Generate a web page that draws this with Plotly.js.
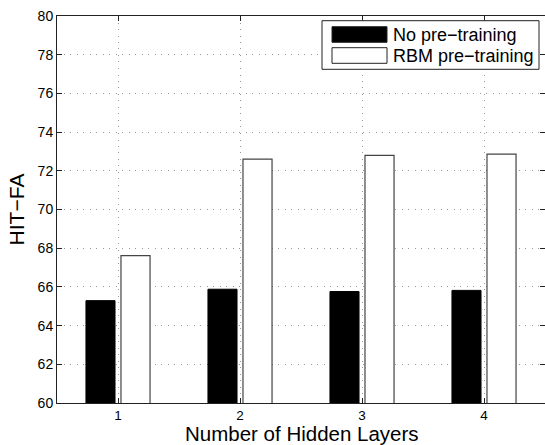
<!DOCTYPE html>
<html>
<head>
<meta charset="utf-8">
<script src="https://cdn.plot.ly/plotly-3.0.1.min.js"></script>
<style>html,body{margin:0;padding:0;background:#fff;overflow:hidden;}#chart{width:545px;height:445px;}</style>
</head>
<body>
<div id="chart"></div>
<script>
const layers = ['1', '2', '3', '4'];
const seriesNames = ['No pre\u2212training', 'RBM pre\u2212training'];
const noPretrain = [65.29, 65.88, 65.76, 65.82];
const rbmPretrain = [67.62, 72.60, 72.80, 72.86];
const yTicks = [60, 62, 64, 66, 68, 70, 72, 74, 76, 78, 80];
const xTitle = 'Number of Hidden Layers';
const yTitle = 'HIT\u2212FA';

const W = 545, H = 445;
const M = {l: 57, r: 0, t: 16, b: 42};
const pw = W - M.l - M.r, ph = H - M.t - M.b;
const px = x => (x - M.l) / pw;
const py = y => (H - M.b - y) / ph;

const FONT = 'Liberation Sans, Arial, Helvetica, sans-serif';

const traces = [
  {type: 'bar', x: layers, y: noPretrain, name: seriesNames[0],
   marker: {color: '#000000', line: {color: '#000000', width: 1}}},
  {type: 'bar', x: layers, y: rbmPretrain, name: seriesNames[1],
   marker: {color: '#ffffff', line: {color: '#444444', width: 1.2}}}
];

// legend drawn manually to mimic MATLAB style
const fills = ['#000000', '#ffffff'];
const shapes = [
  {type: 'rect', xref: 'paper', yref: 'paper', x0: px(322), x1: px(539), y0: py(20.7), y1: py(69.3),
   fillcolor: '#ffffff', line: {color: '#222222', width: 1}, layer: 'above'}
];
const annotations = [];
const rowY = [34.5, 55.5];
seriesNames.forEach((n, i) => {
  shapes.push({type: 'rect', xref: 'paper', yref: 'paper', x0: px(332), x1: px(387),
    y0: py(rowY[i] - 7.8), y1: py(rowY[i] + 7.8), fillcolor: fills[i],
    line: {color: '#222222', width: 1}, layer: 'above'});
  annotations.push({xref: 'paper', yref: 'paper', x: px(391), y: py(rowY[i]), xanchor: 'left', yanchor: 'middle',
    text: n, showarrow: false, font: {family: FONT, size: 18, color: '#000'}});
});
annotations.push({xref: 'paper', yref: 'paper', x: px(302), y: py(433.3), xanchor: 'center', yanchor: 'middle',
  text: xTitle, showarrow: false, borderpad: 0, font: {family: FONT, size: 20.5, color: '#000'}});

const layout = {
  width: W, height: H,
  margin: M,
  paper_bgcolor: '#ffffff', plot_bgcolor: '#ffffff',
  barmode: 'group', bargap: 0.426, bargroupgap: 0.17,
  showlegend: false,
  font: {family: FONT, color: '#000'},
  xaxis: {
    type: 'category', range: [-0.5, 3.5],
    showline: true, linecolor: '#222', linewidth: 1, mirror: 'ticks',
    ticks: 'inside', ticklen: 5, tickcolor: '#222',
    showgrid: true, gridcolor: '#999', griddash: '1px,5.5px', gridwidth: 1,
    tickfont: {size: 13.5, family: FONT, color: '#000'},
    automargin: false, zeroline: false, fixedrange: true
  },
  yaxis: {
    range: [60, 80], tickvals: yTicks, ticktext: yTicks.map(String),
    showline: true, linecolor: '#222', linewidth: 1, mirror: 'ticks',
    ticks: 'inside', ticklen: 5, tickcolor: '#222',
    showgrid: true, gridcolor: '#999', griddash: '1px,5.5px', gridwidth: 1,
    tickfont: {size: 14, family: FONT, color: '#000'},
    title: {text: yTitle, font: {size: 21, family: FONT, color: '#000'}, standoff: 7},
    automargin: false, zeroline: false, fixedrange: true
  },
  shapes: shapes,
  annotations: annotations
};

Plotly.newPlot('chart', traces, layout, {staticPlot: true, displayModeBar: false});
</script>
</body>
</html>
